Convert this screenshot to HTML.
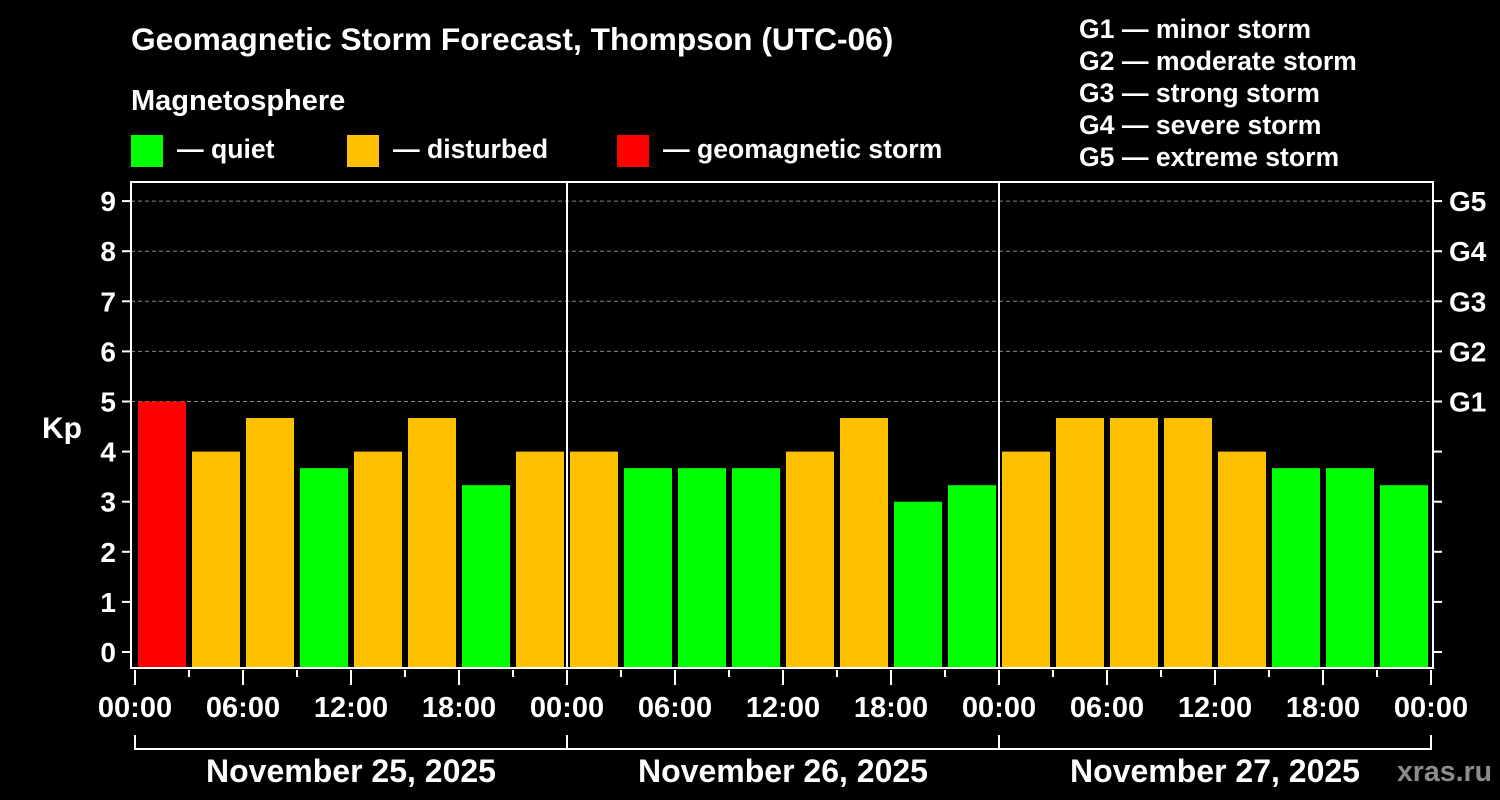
<!DOCTYPE html>
<html><head><meta charset="utf-8"><style>
body{margin:0;background:#000;width:1500px;height:800px;overflow:hidden}
svg{display:block}
text{font-family:"Liberation Sans",Arial,sans-serif;font-weight:bold;fill:#fff}
</style></head><body>
<svg id="c" width="1500" height="800">
<text x="131" y="50" font-size="31.7">Geomagnetic Storm Forecast, Thompson (UTC-06)</text>
<text x="131" y="110" font-size="29">Magnetosphere</text>
<g><rect x="131" y="135" width="32" height="32" fill="#00ff00"/><text x="177" y="158" font-size="26.6">— quiet</text></g>
<g><rect x="347" y="135" width="32" height="32" fill="#ffc000"/><text x="393" y="158" font-size="26.6">— disturbed</text></g>
<g><rect x="617" y="135" width="32" height="32" fill="#ff0000"/><text x="663" y="158" font-size="26.6">— geomagnetic storm</text></g>
<g font-size="26.6">
<text x="1079" y="38">G1 — minor storm</text>
<text x="1079" y="70">G2 — moderate storm</text>
<text x="1079" y="102">G3 — strong storm</text>
<text x="1079" y="134">G4 — severe storm</text>
<text x="1079" y="166">G5 — extreme storm</text>
</g>
<text x="42" y="438" font-size="30">Kp</text>
<text x="1492" y="781" font-size="28.5" text-anchor="end" style="fill:#8c8c8c">xras.ru</text>
<g id="plot"></g>
</svg>
<script>
const days=["November 25, 2025","November 26, 2025","November 27, 2025"];
const kp=[5,4,4.67,3.67,4,4.67,3.33,4, 4,3.67,3.67,3.67,4,4.67,3,3.33, 4,4.67,4.67,4.67,4,3.67,3.67,3.33];
const yTicks=[0,1,2,3,4,5,6,7,8,9];
const gLabels=["G1","G2","G3","G4","G5"];
const xLabels=["00:00","06:00","12:00","18:00"];
const NS="http://www.w3.org/2000/svg";
const g=document.getElementById('plot');
const X0=135,DAYW=432,L=131,R=1433,T=182,B=668;
const y=v=>652-v*50.1;
const x=h=>X0+h*DAYW/24;
function mk(t,a,p){const e=document.createElementNS(NS,t);for(const k in a)e.setAttribute(k,a[k]);(p||g).appendChild(e);return e;}
for(let v=5;v<=9;v++){const e=mk('line',{x1:L,x2:R,y1:y(v),y2:y(v),stroke:'#888','stroke-dasharray':'4,3','stroke-width':1});

}
kp.forEach((v,i)=>{const c=v>=5?'#ff0000':(v>=4?'#ffc000':'#00ff00');
const e=mk('rect',{x:x(i*3)+3,y:y(v),width:48,height:B-y(v),fill:c});

});
const f=mk('rect',{x:L,y:T,width:R-L,height:B-T,fill:'none',stroke:'#fff','stroke-width':2});


for(let d=1;d<days.length;d++){const e=mk('line',{x1:x(d*24),x2:x(d*24),y1:T,y2:B,stroke:'#fff','stroke-width':2});

}
yTicks.forEach(v=>{mk('line',{x1:L-9,x2:L,y1:y(v),y2:y(v),stroke:'#fff','stroke-width':2});
mk('line',{x1:R,x2:R+9,y1:y(v),y2:y(v),stroke:'#fff','stroke-width':2});
const t=mk('text',{x:116,y:y(v)+10,'font-size':28,'text-anchor':'end'});t.textContent=v;

});
gLabels.forEach((s,i)=>{const t=mk('text',{x:1449,y:y(5+i)+10,'font-size':28});t.textContent=s;

});
for(let h=0;h<=72;h+=3){const major=h%6==0;mk('line',{x1:x(h),x2:x(h),y1:670,y2:major?685:677,stroke:'#fff','stroke-width':2});}
for(let d=0;d<=days.length;d++){xLabels.forEach((s,j)=>{if(d==days.length&&j>0)return;
const t=mk('text',{x:x(d*24+j*6),y:717,'font-size':29,'text-anchor':'middle'});t.textContent=s;

});}
days.forEach((s,d)=>{mk('path',{d:`M${x(d*24)},735V749H${x(d*24+24)}V735`,fill:'none',stroke:'#fff','stroke-width':2});
const t=mk('text',{x:x(d*24+12),y:782,'font-size':32,'text-anchor':'middle'});t.textContent=s;

});
</script>
</body></html>
